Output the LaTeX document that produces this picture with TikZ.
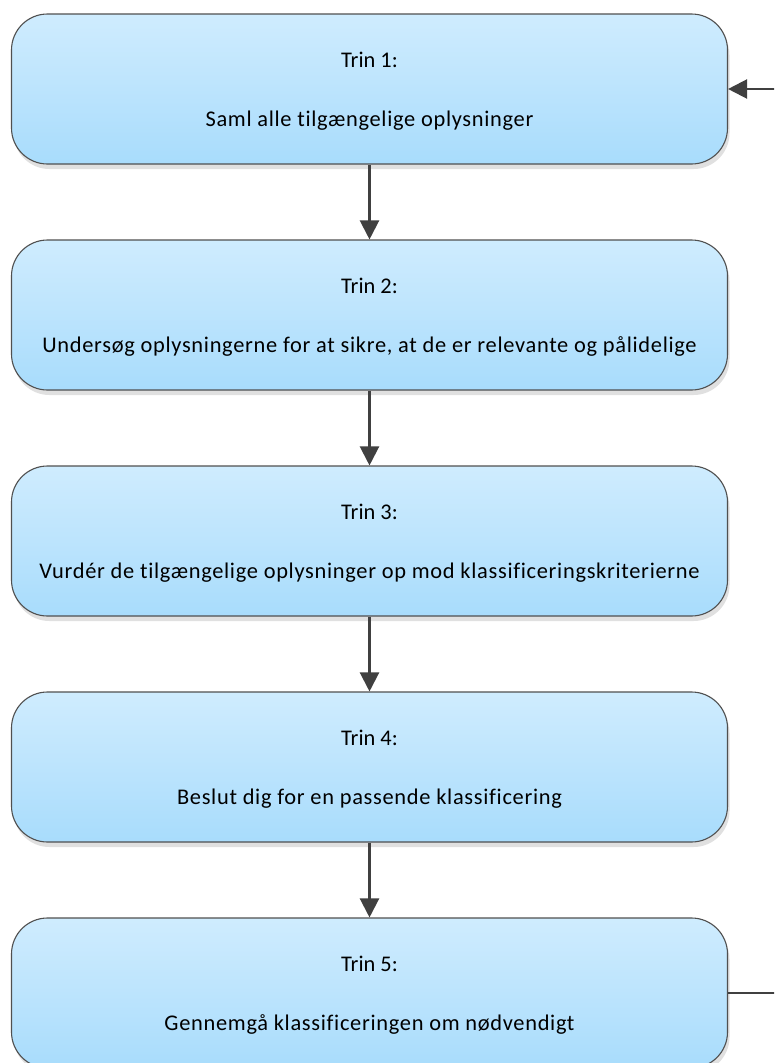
\documentclass[tikz,border=0pt]{standalone}
\usepackage{fontspec}
\setmainfont{Carlito}[Ligatures={NoCommon,TeX}]
\usetikzlibrary{arrows.meta,shadows}
\definecolor{boxtop}{RGB}{207,236,254}
\definecolor{boxmid}{RGB}{188,228,253}
\definecolor{boxbot}{RGB}{168,220,252}
\definecolor{boxline}{RGB}{80,80,80}
\definecolor{arrowc}{RGB}{64,64,64}
\begin{document}
\begin{tikzpicture}[x=1pt,y=-1pt,
  stepbox/.style={draw=boxline, line width=1.1pt, rounded corners=36pt,
    minimum width=716pt, minimum height=150pt, inner sep=0pt,
    top color=boxtop, bottom color=boxbot, middle color=boxmid,
    drop shadow={shadow xshift=2pt, shadow yshift=-5pt, fill=black!12, opacity=1}},
  lbl/.style={font=\fontsize{22.4}{26}\selectfont, anchor=base, inner sep=0pt},
  lbltxt/.style={font=\fontsize{22.4}{26}\selectfont\addfontfeature{LetterSpace=3.1}, anchor=base, inner sep=0pt},
  flow/.style={draw=arrowc, line width=2.2pt, -{Triangle[width=19pt,length=19pt]}}]
\useasboundingbox (0,0) rectangle (774,1063);
\clip (0,0) rectangle (774,1063);
\fill[white] (0,0) rectangle (774,1063);

\node[stepbox] (b1) at (369.5,89) {};
\node[stepbox] (b2) at (369.5,315) {};
\node[stepbox] (b3) at (369.5,541) {};
\node[stepbox] (b4) at (369.5,767) {};
\node[stepbox] (b5) at (369.5,993) {};

\node[lbl] (t1a) at (369.5,67) {Trin 1:};
\node[lbltxt] (t1b) at (369.5,126) {Saml alle tilgængelige oplysninger};
\node[lbl] (t2a) at (369.5,293) {Trin 2:};
\node[lbltxt] (t2b) at (369.5,352) {Undersøg oplysningerne for at sikre, at de er relevante og pålidelige};
\node[lbl] (t3a) at (369.5,519) {Trin 3:};
\node[lbltxt] (t3b) at (369.5,578) {Vurdér de tilgængelige oplysninger op mod klassificeringskriterierne};
\node[lbl] (t4a) at (369.5,745) {Trin 4:};
\node[lbltxt] (t4b) at (369.5,804) {Beslut dig for en passende klassificering};
\node[lbl] (t5a) at (369.5,971) {Trin 5:};
\node[lbltxt] (t5b) at (369.5,1030) {Gennemgå klassificeringen om nødvendigt};

\draw[flow] (b1.south) -- (b2.north);
\draw[flow] (b2.south) -- (b3.north);
\draw[flow] (b3.south) -- (b4.north);
\draw[flow] (b4.south) -- (b5.north);
\draw[flow] (b5.east) -- ++(80,0) |- (b1.east);
\end{tikzpicture}
\end{document}
